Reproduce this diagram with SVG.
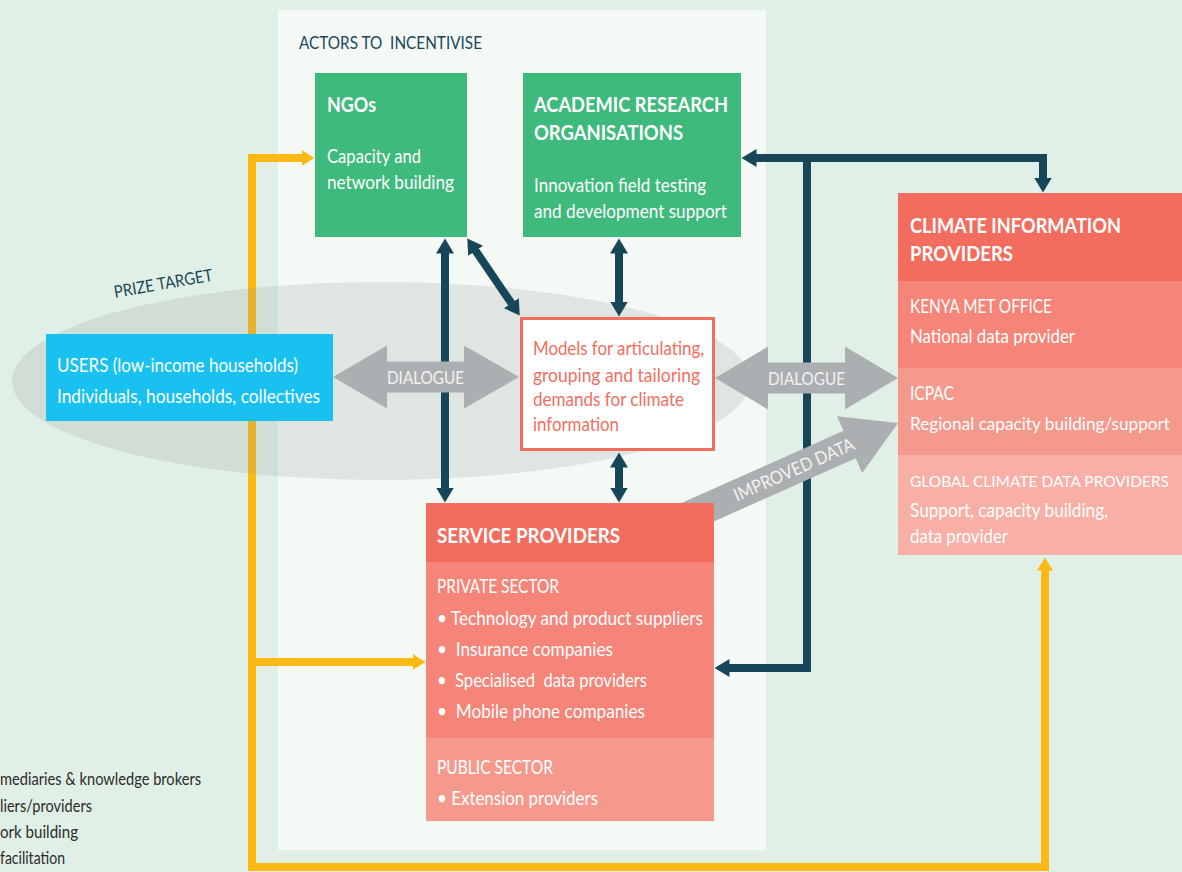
<svg xmlns="http://www.w3.org/2000/svg" width="1182" height="872" viewBox="0 0 1182 872">
<style>
text{font-family:Lato,"Liberation Sans",sans-serif;}
.b{font-size:19px;fill:#ffffff;}
.s{font-size:17px;}
.xs{font-size:15.5px;}
.h{font-size:21px;font-weight:bold;fill:#ffffff;}
.dk{fill:none;stroke:#174658;stroke-width:8;}
.yl{fill:none;stroke:#fdb913;stroke-width:8;}
.gr{fill:#acafb1;}
.gt{font-size:18px;fill:#f2f3f3;text-anchor:middle;}
.m{font-size:19px;fill:#f26e5e;}
.lg{font-size:17px;fill:#2b2b2b;}
</style>
<defs>
<marker id="mdk" markerUnits="userSpaceOnUse" markerWidth="16" markerHeight="18" viewBox="0 0 16 18" refX="0.5" refY="9" orient="auto-start-reverse"><path d="M0,0 L15,9 L0,18 z" fill="#174658"/></marker>
<marker id="myl" markerUnits="userSpaceOnUse" markerWidth="14" markerHeight="16" viewBox="0 0 14 16" refX="0.5" refY="8" orient="auto-start-reverse"><path d="M0,0 L13,8 L0,16 z" fill="#fdb913"/></marker>
</defs>
<rect x="0" y="0" width="1182" height="872" fill="#e1f0e6"/>
<rect id="actors-panel" x="278" y="10" width="488" height="840" fill="#f5f9f6"/>
<text x="299" y="49" font-size="18" fill="#1a4858" textLength="183" lengthAdjust="spacingAndGlyphs" xml:space="preserve">ACTORS TO  INCENTIVISE</text>

<g id="connectors-yellow">
<path class="yl" d="M302,158 H252 V867 H1045 V570" marker-start="url(#myl)" marker-end="url(#myl)"/>
<path class="yl" d="M252,662 H413" marker-end="url(#myl)"/>
</g>

<g id="prize-target">
<ellipse cx="381" cy="381" rx="369" ry="99" fill="#8a9598" opacity="0.2"/>
<text transform="translate(115,298) rotate(-10)" font-size="17" fill="#1a4858" textLength="100" lengthAdjust="spacingAndGlyphs">PRIZE TARGET</text>
</g>

<g id="connectors">
<path class="dk" d="M445,253 V488" marker-start="url(#mdk)" marker-end="url(#mdk)"/>
<path class="dk" d="M475.4,250.4 L511.6,303.6" marker-start="url(#mdk)" marker-end="url(#mdk)"/>
<path class="dk" d="M619,253 V302" marker-start="url(#mdk)" marker-end="url(#mdk)"/>
<path class="dk" d="M619,467 V488" marker-start="url(#mdk)" marker-end="url(#mdk)"/>
<path class="dk" d="M756,158 H1043 V178" marker-start="url(#mdk)" marker-end="url(#mdk)"/>
<path class="dk" d="M807,158 V668 H729" marker-end="url(#mdk)"/>
<g id="dialogue-left">
<polygon class="gr" points="333,377 387,345.5 387,361.5 464,361.5 464,345.5 519,377 464,408.5 464,392.5 387,392.5 387,408.5"/>
<text class="gt" x="425.5" y="384" textLength="77" lengthAdjust="spacingAndGlyphs">DIALOGUE</text>
</g>
<g id="dialogue-right">
<polygon class="gr" points="715,378 768,346.5 768,362.5 845,362.5 845,346.5 898,378 845,409.5 845,393.5 768,393.5 768,409.5"/>
<text class="gt" x="806.5" y="385" textLength="77" lengthAdjust="spacingAndGlyphs">DIALOGUE</text>
</g>
<g id="improved-data" transform="translate(898,423) rotate(-24)">
<polygon class="gr" points="0,0 -53,-31 -53,-15 -270,-15 -270,15 -53,15 -53,31"/>
<text class="gt" x="-114" y="6.5" font-size="17" textLength="130" lengthAdjust="spacingAndGlyphs">IMPROVED DATA</text>
</g>
</g>

<g id="users">
<rect x="46" y="334" width="287" height="87" fill="#18c1f0"/>
<text class="b" x="57" y="372" textLength="241" lengthAdjust="spacingAndGlyphs">USERS (low-income households)</text>
<text class="b" x="57" y="403" textLength="263" lengthAdjust="spacingAndGlyphs">Individuals, households, collectives</text>
</g>

<g id="ngos">
<rect x="315" y="73" width="152" height="164" fill="#3dba7c"/>
<text class="h" x="327" y="112" textLength="49" lengthAdjust="spacingAndGlyphs">NGOs</text>
<text class="b" x="327" y="163" textLength="94" lengthAdjust="spacingAndGlyphs">Capacity and</text>
<text class="b" x="327" y="189" textLength="127" lengthAdjust="spacingAndGlyphs">network building</text>
</g>

<g id="academic">
<rect x="523" y="73" width="218" height="164" fill="#3dba7c"/>
<text class="h" x="534" y="112" textLength="194" lengthAdjust="spacingAndGlyphs">ACADEMIC RESEARCH</text>
<text class="h" x="534" y="140" textLength="149" lengthAdjust="spacingAndGlyphs">ORGANISATIONS</text>
<text class="b" x="534" y="192" textLength="172" lengthAdjust="spacingAndGlyphs">Innovation field testing</text>
<text class="b" x="534" y="218" textLength="193" lengthAdjust="spacingAndGlyphs">and development support</text>
</g>

<g id="models">
<rect x="521.5" y="318.5" width="192" height="131" fill="#ffffff" stroke="#f26e5e" stroke-width="3"/>
<text class="m" x="533" y="355" textLength="171" lengthAdjust="spacingAndGlyphs">Models for articulating,</text>
<text class="m" x="533" y="382" textLength="167" lengthAdjust="spacingAndGlyphs">grouping and tailoring</text>
<text class="m" x="533" y="406" textLength="151" lengthAdjust="spacingAndGlyphs">demands for climate</text>
<text class="m" x="533" y="431" textLength="86" lengthAdjust="spacingAndGlyphs">information</text>
</g>

<g id="service-providers">
<rect x="426" y="503" width="288" height="59" fill="#f26d5d"/>
<rect x="426" y="562" width="288" height="176" fill="#f48578"/>
<rect x="426" y="738" width="288" height="83" fill="#f5998d"/>
<text class="h" x="437" y="543" textLength="183" lengthAdjust="spacingAndGlyphs">SERVICE PROVIDERS</text>
<text class="b" x="437" y="593" textLength="122" lengthAdjust="spacingAndGlyphs">PRIVATE SECTOR</text>
<text class="b" x="437" y="625" textLength="266" lengthAdjust="spacingAndGlyphs">• Technology and product suppliers</text>
<text class="b" x="437" y="656" textLength="176" lengthAdjust="spacingAndGlyphs" xml:space="preserve">•  Insurance companies</text>
<text class="b" x="437" y="687" textLength="210" lengthAdjust="spacingAndGlyphs" xml:space="preserve">•  Specialised  data providers</text>
<text class="b" x="437" y="718" textLength="208" lengthAdjust="spacingAndGlyphs" xml:space="preserve">•  Mobile phone companies</text>
<text class="b" x="437" y="774" textLength="116" lengthAdjust="spacingAndGlyphs">PUBLIC SECTOR</text>
<text class="b" x="437" y="805" textLength="161" lengthAdjust="spacingAndGlyphs">• Extension providers</text>
</g>

<g id="climate-info-providers">
<rect x="898" y="193" width="284" height="88" fill="#f26d5d"/>
<rect x="898" y="281" width="284" height="87" fill="#f48578"/>
<rect x="898" y="368" width="284" height="87" fill="#f5998d"/>
<rect x="898" y="455" width="284" height="100" fill="#f8afa6"/>
<text class="h" x="910" y="233" textLength="211" lengthAdjust="spacingAndGlyphs">CLIMATE INFORMATION</text>
<text class="h" x="910" y="261" textLength="103" lengthAdjust="spacingAndGlyphs">PROVIDERS</text>
<text class="b" x="910" y="313" textLength="142" lengthAdjust="spacingAndGlyphs">KENYA MET OFFICE</text>
<text class="b" x="910" y="343" textLength="165" lengthAdjust="spacingAndGlyphs">National data provider</text>
<text class="b" x="910" y="400" textLength="44" lengthAdjust="spacingAndGlyphs">ICPAC</text>
<text class="b s" x="910" y="430" textLength="260" lengthAdjust="spacingAndGlyphs">Regional capacity building/support</text>
<text class="b xs" x="910" y="487" textLength="259" lengthAdjust="spacingAndGlyphs">GLOBAL CLIMATE DATA PROVIDERS</text>
<text class="b" x="910" y="517" textLength="198" lengthAdjust="spacingAndGlyphs">Support, capacity building,</text>
<text class="b" x="910" y="543" textLength="98" lengthAdjust="spacingAndGlyphs">data provider</text>
</g>

<g id="legend">
<text class="lg" x="0" y="785" textLength="201" lengthAdjust="spacingAndGlyphs">mediaries &amp; knowledge brokers</text>
<text class="lg" x="0" y="812" textLength="92" lengthAdjust="spacingAndGlyphs">liers/providers</text>
<text class="lg" x="0" y="838" textLength="78" lengthAdjust="spacingAndGlyphs">ork building</text>
<text class="lg" x="0" y="864" textLength="65" lengthAdjust="spacingAndGlyphs">facilitation</text>
</g>
</svg>
